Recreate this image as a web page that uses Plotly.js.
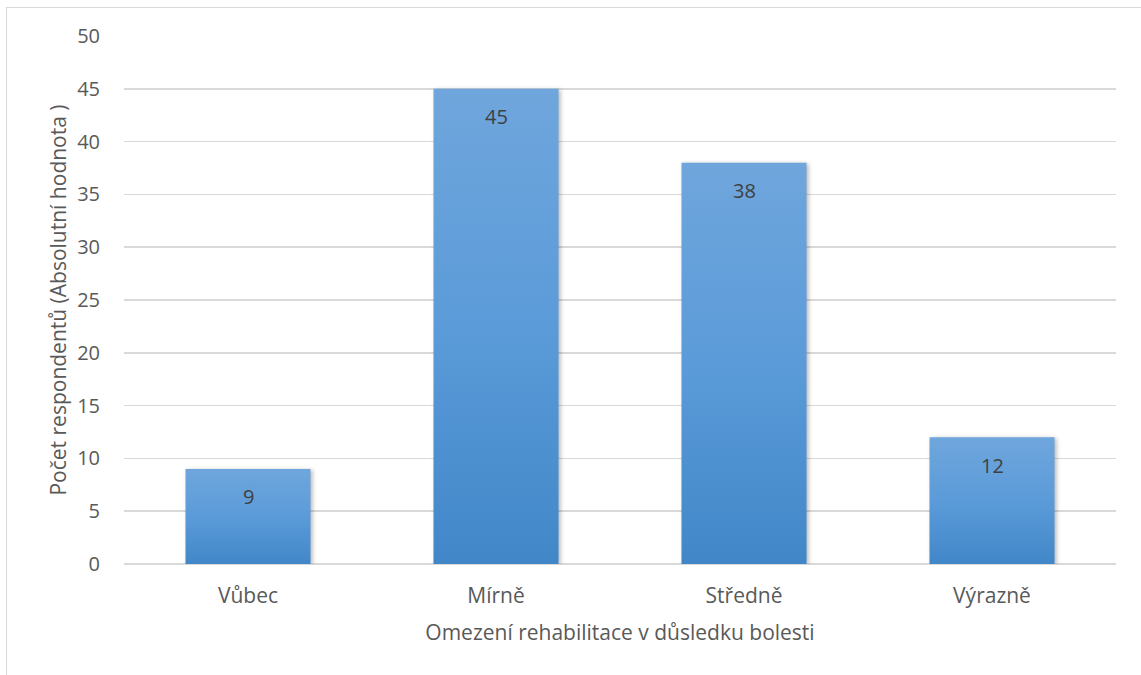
<!DOCTYPE html>
<html>
<head>
<meta charset="utf-8">
<script src="https://cdn.plot.ly/plotly-3.0.1.min.js"></script>
<style>
  html, body { margin: 0; padding: 0; background: #fff; }
  #wrap { position: relative; width: 1141px; height: 675px; overflow: hidden; }
  #frame { position: absolute; left: 6px; top: 7px; width: 1141px; height: 700px;
           border-top: 1.5px solid #D9D9D9; border-left: 1.5px solid #D9D9D9; pointer-events: none; }
  #chart { position: absolute; left: 0; top: 0; width: 1141px; height: 675px; }
  .trace.bars .point path { filter: drop-shadow(2px 1px 2px rgba(0,0,0,0.28)); }
</style>
</head>
<body>
<div id="wrap">
  <div id="chart"></div>
  <div id="frame"></div>
</div>
<script>
const categories = ["Vůbec", "Mírně", "Středně", "Výrazně"];
const values = [9, 45, 38, 12];
const yTickVals = [0, 5, 10, 15, 20, 25, 30, 35, 40, 45, 50];
const xTitle = "Omezení rehabilitace v důsledku bolesti";
const yTitle = "Počet respondentů (Absolutní hodnota )";

const FONT = "'Open Sans', 'Noto Sans', sans-serif";
const TXT = "#595959";

const trace = {
  type: "bar",
  x: categories,
  y: values,
  marker: { color: "#5A9BD8", line: { width: 0 } },
  hoverinfo: "none",
  showlegend: false
};

const annotations = categories.map((c, i) => ({
  x: c, y: values[i], xref: "x", yref: "y",
  text: String(values[i]), showarrow: false,
  yshift: -28, font: { family: FONT, size: 20, color: "#404040" }
}));

const layout = {
  width: 1141, height: 675,
  margin: { l: 124, r: 25, t: 36, b: 111, pad: 0 },
  paper_bgcolor: "rgba(0,0,0,0)",
  plot_bgcolor: "rgba(0,0,0,0)",
  bargap: 0.496,
  font: { family: FONT, size: 21, color: TXT },
  xaxis: {
    type: "category",
    showgrid: false, showline: false, zeroline: false,
    ticks: "outside", ticklen: 13, tickcolor: "rgba(0,0,0,0)",
    tickfont: { family: FONT, size: 21, color: TXT },
    title: { text: xTitle, font: { family: FONT, size: 21, color: TXT }, standoff: 17 },
    automargin: false
  },
  yaxis: {
    range: [0, 50],
    tickvals: yTickVals,
    showgrid: true, gridcolor: "#D9D9D9", gridwidth: 1.5,
    zeroline: true, zerolinecolor: "#D9D9D9", zerolinewidth: 1.5,
    showline: false,
    ticks: "outside", ticklen: 19, tickcolor: "rgba(0,0,0,0)",
    tickfont: { family: FONT, size: 20, color: TXT },
    title: { text: yTitle, font: { family: FONT, size: 21, color: TXT }, standoff: 4 },
    automargin: false
  },
  annotations: annotations
};

Plotly.newPlot("chart", [trace], layout, { staticPlot: true, displayModeBar: false }).then(gd => {
  const svg = gd.querySelector("svg.main-svg");
  const ns = "http://www.w3.org/2000/svg";
  let defs = svg.querySelector("defs");
  if (!defs) { defs = document.createElementNS(ns, "defs"); svg.insertBefore(defs, svg.firstChild); }
  const lg = document.createElementNS(ns, "linearGradient");
  lg.setAttribute("id", "barGrad");
  lg.setAttribute("x1", "0"); lg.setAttribute("y1", "0");
  lg.setAttribute("x2", "0"); lg.setAttribute("y2", "1");
  [["0", "#6FA6DC"], ["0.5", "#5B9BD9"], ["1", "#4187C8"]].forEach(([o, c]) => {
    const s = document.createElementNS(ns, "stop");
    s.setAttribute("offset", o); s.setAttribute("stop-color", c);
    lg.appendChild(s);
  });
  defs.appendChild(lg);
  gd.querySelectorAll(".trace.bars .point path").forEach(p => {
    p.style.fill = "url(#barGrad)";
  });
});
</script>
</body>
</html>
